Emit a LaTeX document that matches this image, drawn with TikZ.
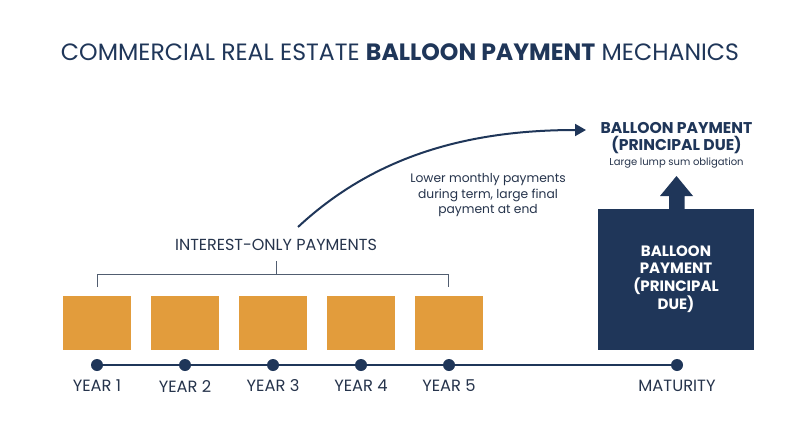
\documentclass[tikz,border=0pt]{standalone}
\usepackage{fontspec}
\setmainfont{Poppins}
\usetikzlibrary{arrows.meta}
\definecolor{navy}{HTML}{1F3659}
\definecolor{gold}{HTML}{E29C3C}
\definecolor{txt}{HTML}{26344C}
\begin{document}
\begin{tikzpicture}[x=1pt,y=-1pt,
  paybox/.style={fill=gold,draw=none,minimum width=68pt,minimum height=54pt,inner sep=0pt},
  tdot/.style={circle,fill=navy,minimum size=12pt,inner sep=0pt},
  ylabel/.style={text=txt,font=\fontsize{16.3}{18}\selectfont,inner sep=0pt},
  tline/.style={navy,line width=2pt},
  brk/.style={draw=txt!80,line width=0.9pt}]
\useasboundingbox[fill=white] (0,0) rectangle (800,447);
\node[text=navy,font=\fontsize{23.6}{26}\selectfont,inner sep=0pt] (title) at (400,52) {COMMERCIAL REAL ESTATE \textbf{BALLOON PAYMENT} MECHANICS};
% boxes
\foreach \i/\x in {1/97,2/185,3/273,4/361,5/449}{
  \node[paybox] (b\i) at (\x,322.5) {};
  \node[tdot] (d\i) at (\x,365) {};
  \node[ylabel] (l\i) at (\x,386) {YEAR \i};
}
\node[tdot] (dm) at (677,365) {};
\node[ylabel] (lm) at (677,386) {MATURITY};
\draw[tline] (d1) -- (d2) -- (d3) -- (d4) -- (d5) -- (dm);
% bracket
\coordinate (bl) at (97,287);
\coordinate (br) at (448,287);
\coordinate (bt) at (276,261);
\draw[brk] (bl) -- (97,274.5) -- (448,274.5) -- (br);
\draw[brk] (276,274.5) -- (bt);
\node[text=txt,font=\fontsize{16}{18}\selectfont,inner sep=0pt] (io) at (276,245) {INTEREST-ONLY PAYMENTS};
% balloon box
\node[fill=navy,minimum width=156pt,minimum height=141pt,inner sep=0pt,anchor=north west] (bal) at (598,208.5) {};
\node[text=white,font=\bfseries\fontsize{15}{17.7}\selectfont,align=center,inner sep=0pt] (baltxt) at (676,279) {BALLOON\\PAYMENT\\(PRINCIPAL\\DUE)};
% up arrow
\fill[navy] (669,209) -- (669,196) -- (660,196) -- (676.5,176) -- (693,196) -- (684.5,196) -- (684.5,209) -- cycle;
% top labels
\node[text=navy,font=\bfseries\fontsize{15.6}{16.5}\selectfont,align=center,inner sep=0pt] (bt1) at (676.5,138) {BALLOON PAYMENT\\(PRINCIPAL DUE)};
\node[text=txt,font=\fontsize{10}{12}\selectfont,inner sep=0pt] (bt2) at (676.5,163.5) {Large lump sum obligation};
% curve
\coordinate (cs) at (298,227);
\coordinate (ce) at (586,130);
\draw[navy,line width=2pt,-{Triangle[length=11pt,width=12pt]}] (cs) .. controls (370,160) and (460,130) .. (ce);
\node[text=txt,font=\fontsize{12.3}{15.5}\selectfont,align=center,inner sep=0pt] (note) at (488,195.5) {Lower monthly payments\\during term, large final\\payment at end};
\end{tikzpicture}
\end{document}
